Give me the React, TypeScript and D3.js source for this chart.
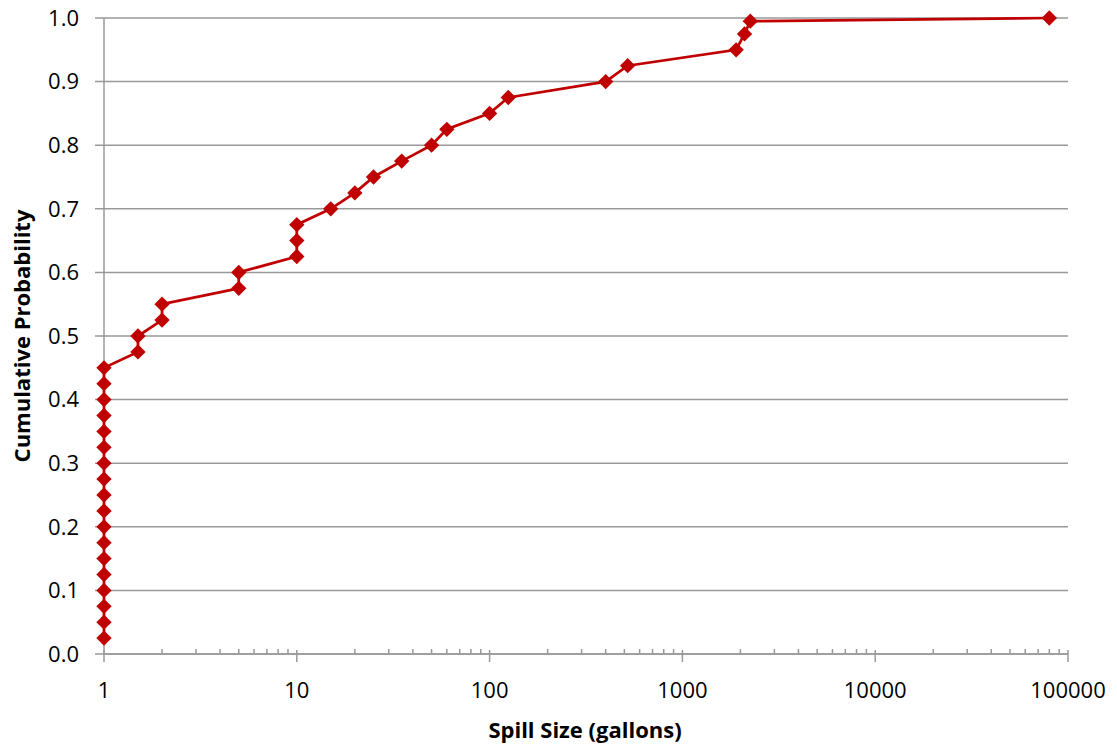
import React from "react";
import * as d3 from "d3";

// Spill sizes (gallons) and their cumulative probabilities
const spillSize: number[] = [
  1, 1, 1, 1, 1, 1, 1, 1, 1, 1, 1, 1, 1, 1, 1, 1, 1, 1,
  1.5, 1.5, 2, 2, 5, 5, 10, 10, 10, 15, 20, 25, 35, 50, 60,
  100, 125, 400, 520, 1900, 2100, 2250, 80000,
];
const cumProb: number[] = [
  0.025, 0.05, 0.075, 0.1, 0.125, 0.15, 0.175, 0.2, 0.225, 0.25,
  0.275, 0.3, 0.325, 0.35, 0.375, 0.4, 0.425, 0.45,
  0.475, 0.5, 0.525, 0.55, 0.575, 0.6, 0.625, 0.65, 0.675, 0.7,
  0.725, 0.75, 0.775, 0.8, 0.825, 0.85, 0.875, 0.9, 0.925, 0.95,
  0.975, 0.995, 1.0,
];
const yTicks: number[] = [0, 0.1, 0.2, 0.3, 0.4, 0.5, 0.6, 0.7, 0.8, 0.9, 1.0];
const xMajor: number[] = [1, 10, 100, 1000, 10000, 100000];

const W = 1117;
const H = 746;
const left = 104;
const right = 1068;
const top = 18;
const bottom = 654;
const FONT = "'Open Sans', 'Liberation Sans', sans-serif";
const GRID = "#999999";
const RED = "#C00000";

export default function App() {
  const x = d3.scaleLog().domain([1, 100000]).range([left, right]);
  const y = d3.scaleLinear().domain([0, 1]).range([bottom, top]);

  const minor: number[] = [];
  for (let d = 1; d < 100000; d *= 10) {
    for (let k = 2; k <= 9; k++) minor.push(d * k);
  }

  const pts = spillSize.map((s, i) => [x(s), y(cumProb[i])] as [number, number]);
  const line = d3.line()(pts) || "";
  const diamond = d3.symbol().type(d3.symbolDiamond2).size(150)() || "";

  return (
    <svg width={W} height={H} style={{ position: "absolute", left: 0, top: 0 }}>
      <rect x={0} y={0} width={W} height={H} fill="#fff" />
      {yTicks.map((t) => (
        <g key={t}>
          <line x1={95} x2={right} y1={y(t)} y2={y(t)} stroke={GRID} strokeWidth={1.5} />
          <text x={79} y={y(t)} dy="0.35em" textAnchor="end" fontFamily={FONT} fontSize={22} fill="#000">
            {t.toFixed(1)}
          </text>
        </g>
      ))}
      <line x1={left} x2={left} y1={top} y2={bottom} stroke={GRID} strokeWidth={1.5} />
      <line x1={left} x2={right} y1={bottom} y2={bottom} stroke={GRID} strokeWidth={1.5} />
      {minor.map((m) => (
        <line key={m} x1={x(m)} x2={x(m)} y1={bottom - 5} y2={bottom} stroke={GRID} strokeWidth={1.5} />
      ))}
      {xMajor.map((m) => (
        <g key={m}>
          <line x1={x(m)} x2={x(m)} y1={bottom - 4} y2={bottom + 8} stroke={GRID} strokeWidth={1.5} />
          <text x={x(m)} y={690} dy="0.35em" textAnchor="middle" fontFamily={FONT} fontSize={22} fill="#000">
            {String(m)}
          </text>
        </g>
      ))}
      <path d={line} fill="none" stroke={RED} strokeWidth={2.75} />
      {pts.map((p, i) => (
        <path key={i} d={diamond} transform={`translate(${p[0]},${p[1]})`} fill={RED} />
      ))}
      <text x={585} y={730} dy="0.35em" textAnchor="middle" fontFamily={FONT} fontSize={22} fontWeight="bold">
        Spill Size (gallons)
      </text>
      <text
        transform={`translate(22,${(top + bottom) / 2}) rotate(-90)`}
        dy="0.35em"
        textAnchor="middle"
        fontFamily={FONT}
        fontSize={22}
        fontWeight="bold"
      >
        Cumulative Probability
      </text>
    </svg>
  );
}
